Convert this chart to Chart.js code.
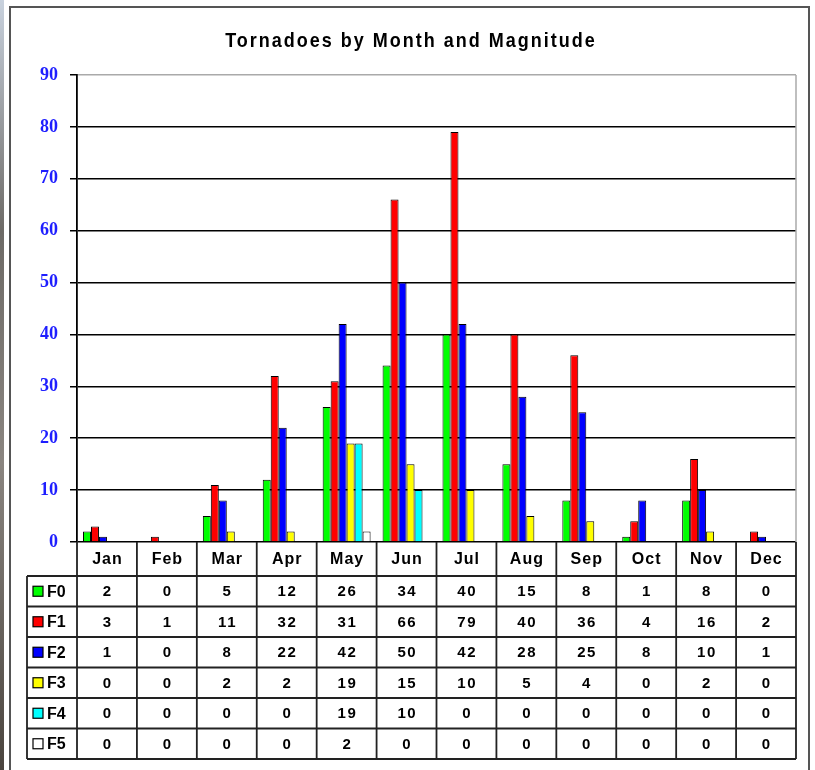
<!DOCTYPE html>
<html lang="en"><head>
<title>Tornadoes by Month and Magnitude</title>
<style>
* { margin: 0; padding: 0 }
body { background: #fff; }
canvas { display: block; }
</style>
<script src="https://cdn.jsdelivr.net/npm/chart.js"></script>
<script>

const months = ["Jan", "Feb", "Mar", "Apr", "May", "Jun", "Jul", "Aug", "Sep", "Oct", "Nov", "Dec"];
const magnitudes = ["F0", "F1", "F2", "F3", "F4", "F5"];
const f0 = [2, 0, 5, 12, 26, 34, 40, 15, 8, 1, 8, 0];
const f1 = [3, 1, 11, 32, 31, 66, 79, 40, 36, 4, 16, 2];
const f2 = [1, 0, 8, 22, 42, 50, 42, 28, 25, 8, 10, 1];
const f3 = [0, 0, 2, 2, 19, 15, 10, 5, 4, 0, 2, 0];
const f4 = [0, 0, 0, 0, 19, 10, 0, 0, 0, 0, 0, 0];
const f5 = [0, 0, 0, 0, 2, 0, 0, 0, 0, 0, 0, 0];
const colors = ["#00ff00", "#ff0000", "#0000ff", "#ffff00", "#00ffff", "#ffffff"];
const yTicks = [0, 10, 20, 30, 40, 50, 60, 70, 80, 90];

const TITLE = "Tornadoes by Month and Magnitude";
const HEADER_TOP = 542;
const TABLE_TOP = 576;
const ROW_H = 30.5;
const LEGEND_LEFT = 27;

function get(id) {
    return document.getElementById(id);
}

// frame around the whole thing + the title
const framePlugin = {
    id: "frame",
    beforeDraw(chart) {
        const ctx = chart.ctx;
        ctx.save();
        ctx.fillStyle = "#fff";
        ctx.fillRect(0, 0, chart.width, chart.height);
        const g = ctx.createLinearGradient(0, 0, 0, chart.height);
        g.addColorStop(0, "#c9d2de");
        g.addColorStop(0.3, "#6d6a66");
        g.addColorStop(0.6, "#8a8580");
        g.addColorStop(1, "#4a443e");
        ctx.fillStyle = g;
        ctx.fillRect(0, 0, 4, chart.height);
        ctx.strokeStyle = "#555";
        ctx.lineWidth = 2;
        ctx.strokeRect(10, 7, 799, chart.height + 10);

        // title is a bit taller than plain Arial in the original
        ctx.fillStyle = "#000";
        ctx.font = "bold 18px Arial";
        ctx.letterSpacing = "2px";
        ctx.textAlign = "center";
        ctx.textBaseline = "middle";
        ctx.translate(411, 41);
        ctx.scale(1, 1.12);
        ctx.fillText(TITLE, 0, 0);
        ctx.restore();
    }
};

// data table under the plot, columns lined up with the x scale
const tablePlugin = {
    id: "table",
    afterDraw(chart) {
        const ctx = chart.ctx;
        const area = chart.chartArea;
        const x = chart.scales.x;
        const colW = (area.right - area.left) / months.length;
        const rows = [f0, f1, f2, f3, f4, f5];
        const bottom = TABLE_TOP + ROW_H * rows.length;

        ctx.save();
        // grey right edge of plot
        ctx.strokeStyle = "#aaa";
        ctx.lineWidth = 1.5;
        ctx.beginPath();
        ctx.moveTo(area.right, area.top);
        ctx.lineTo(area.right, area.bottom);
        ctx.stroke();

        ctx.strokeStyle = "#222";
        ctx.lineWidth = 1.8;
        ctx.beginPath();
        for (let i = 0; i <= months.length; i++) {
            const xx = area.left + i * colW;
            ctx.moveTo(xx, HEADER_TOP);
            ctx.lineTo(xx, bottom);
        }
        ctx.moveTo(LEGEND_LEFT, TABLE_TOP);
        ctx.lineTo(LEGEND_LEFT, bottom);
        for (let r = 0; r <= rows.length; r++) {
            const yy = TABLE_TOP + r * ROW_H;
            ctx.moveTo(LEGEND_LEFT, yy);
            ctx.lineTo(area.right, yy);
        }
        ctx.stroke();

        ctx.fillStyle = "#000";
        ctx.textAlign = "center";
        ctx.textBaseline = "middle";
        ctx.font = "bold 16px Arial";
        ctx.letterSpacing = "1px";
        for (let i = 0; i < months.length; i++) {
            ctx.fillText(months[i], x.getPixelForValue(i) + 0.5, (HEADER_TOP + TABLE_TOP) / 2 + 1);
        }

        for (let r = 0; r < rows.length; r++) {
            const cy = TABLE_TOP + r * ROW_H + ROW_H / 2 + 1;
            ctx.font = "bold 15px Arial";
            ctx.letterSpacing = "1.5px";
            ctx.textAlign = "center";
            for (let i = 0; i < months.length; i++) {
                ctx.fillText(String(rows[r][i]), x.getPixelForValue(i) + 0.75, cy);
            }
            // legend key
            ctx.fillStyle = colors[r];
            ctx.fillRect(33, cy - 6, 10, 10);
            ctx.strokeStyle = "#000";
            ctx.lineWidth = 1.2;
            ctx.strokeRect(33, cy - 6, 10, 10);
            ctx.fillStyle = "#000";
            ctx.textAlign = "left";
            ctx.font = "bold 16px Arial";
            ctx.letterSpacing = "0px";
            ctx.fillText(magnitudes[r], 47, cy);
        }
        ctx.restore();
    }
};

function bodyOnLoad() {
    const series = [f0, f1, f2, f3, f4, f5];
    const datasets = series.map(function(vals, i) {
        return {
            label: magnitudes[i],
            data: vals.map(v => v === 0 ? null : v),
            backgroundColor: colors[i],
            borderColor: "#000",
            borderWidth: 1,
            categoryPercentage: 0.8,
            barPercentage: 1.0,
        };
    });

    new Chart(get("TornadoChart"), {
        type: "bar",
        data: { labels: months, datasets: datasets },
        options: {
            responsive: false,
            animation: false,
            devicePixelRatio: 1,
            layout: { padding: { left: 10, right: 19, top: 75, bottom: 228 } },
            plugins: {
                legend: { display: false },
                tooltip: { enabled: false },
                title: { display: false },
            },
            scales: {
                x: { display: false },
                y: {
                    min: yTicks[0],
                    max: yTicks[yTicks.length - 1],
                    afterFit: function(scale) { scale.width = 67; },
                    afterBuildTicks: function(scale) {
                        scale.ticks = yTicks.map(v => ({ value: v }));
                    },
                    ticks: {
                        color: "#1e1eff",
                        padding: 12,
                        font: { family: "'Liberation Serif', 'Times New Roman', serif", weight: "bold", size: 18 },
                    },
                    grid: {
                        color: ctx => (ctx.tick && ctx.tick.value === 90) ? "#aaa" : "#000",
                        lineWidth: 1.5,
                        tickLength: 7,
                        tickColor: "#000",
                    },
                    border: { display: true, color: "#000", width: 1.8 },
                },
            },
        },
        plugins: [framePlugin, tablePlugin],
    });
}
</script>
</head><body onload="bodyOnLoad()">
<canvas id="TornadoChart" width="815" height="770"></canvas>
</body></html>
